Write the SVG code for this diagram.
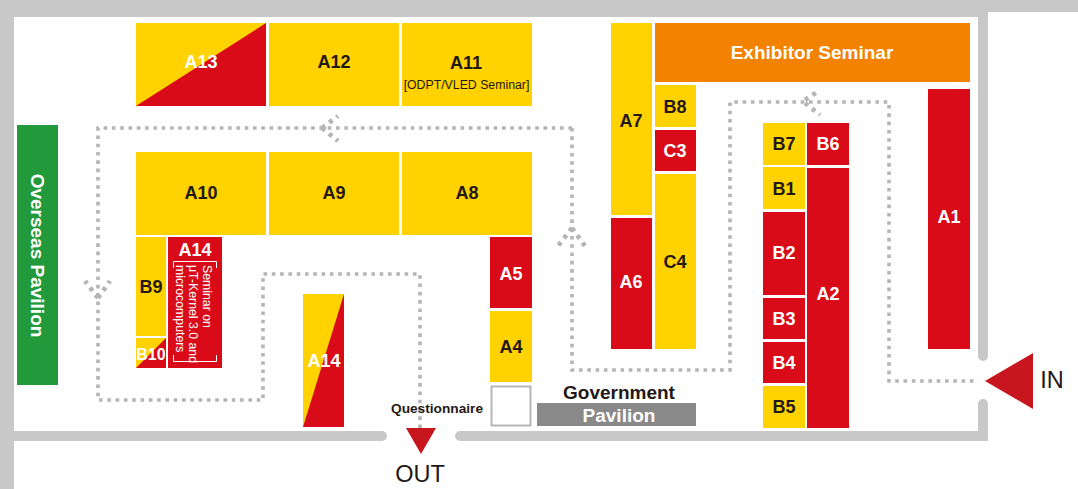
<svg xmlns="http://www.w3.org/2000/svg" width="1078" height="489" viewBox="0 0 1078 489">
<style>
text{font-family:"Liberation Sans",Arial,sans-serif;text-anchor:middle}
.y{fill:#ffd200}.r{fill:#d90b18}
.l{font-size:18px;font-weight:700;fill:#231815}
.w{font-size:18px;font-weight:700;fill:#fff}
.s{font-size:12.300px;fill:#fff;text-anchor:start}
.wall{fill:none;stroke:#c8c8c9;stroke-width:10;stroke-linecap:round;stroke-linejoin:miter}
.dot{fill:none;stroke:#b5b5b6;stroke-width:3.600;stroke-dasharray:3.600 4.700}
.chev{fill:none;stroke:#b5b5b6;stroke-width:4.600;stroke-dasharray:4 5}
.tip{fill:#c8161e}
.big{font-size:23.500px;fill:#231815}
</style>
<g id="walls">
<rect x="0" y="0" width="1078" height="12" fill="#c8c8c9"/>
<rect x="0" y="0" width="988" height="17" fill="#c8c8c9"/>
<rect x="0" y="0" width="14" height="489" fill="#c8c8c9"/>
<path class="wall" d="M983 14V356"/>
<path class="wall" d="M983 404V436H460"/>
<path class="wall" d="M14 436H382"/>
</g>
<g id="connectors">
<path class="dot" d="M572 128H98V400H263V274H420V428"/>
<path class="dot" d="M572 128V370H730V102H889V381H977"/>
<path class="chev" d="M322 128L338 116M322 128L338 141"/>
<path class="chev" d="M572 228L558 246M572 228L585 246"/>
<path class="chev" d="M98 298L85 281M98 298L110 281"/>
<path class="chev" d="M805 100L820 90M805 103L820 115"/>
</g>
<g id="a13"><rect class="y" x="136" y="23" width="130" height="83"/><path class="r" d="M136 106L266 23V106Z"/><text class="w" x="201" y="68">A13</text></g>
<g id="a12"><rect class="y" x="269" y="23" width="130" height="83"/><text class="l" x="334" y="68">A12</text></g>
<g id="a11"><rect class="y" x="402" y="23" width="130" height="83"/><text class="l" x="466" y="69">A11</text><text x="466.500" y="89" font-size="12.300" fill="#231815">[ODPT/VLED Seminar]</text></g>
<g id="a10"><rect class="y" x="136" y="152" width="130" height="83"/><text class="l" x="201" y="199">A10</text></g>
<g id="a9"><rect class="y" x="269" y="152" width="130" height="83"/><text class="l" x="334" y="199">A9</text></g>
<g id="a8"><rect class="y" x="402" y="152" width="130" height="83"/><text class="l" x="467" y="199">A8</text></g>
<g id="overseas"><rect x="17" y="125" width="41" height="260" fill="#229a3c"/><text class="w" transform="translate(31 255.500) rotate(90)" style="font-size:19px">Overseas Pavilion</text></g>
<g id="b9"><rect class="y" x="136" y="237" width="30" height="99"/><text class="l" x="151" y="293">B9</text></g>
<g id="b10"><rect class="y" x="136" y="338" width="30" height="30"/><path class="r" d="M136 368L166 338V368Z"/><text class="w" x="151" y="360" style="font-size:16px">B10</text></g>
<g id="a14-seminar"><rect class="r" x="168" y="237" width="54" height="131"/><text class="w" x="195" y="256">A14</text>
<path d="M173.500 268V261.500H216.500V268M173.500 355V361.500H216.500V355" fill="none" stroke="#fff" stroke-width="1"/>
<text class="s" transform="translate(203 265) rotate(90)">Seminar on</text>
<text class="s" transform="translate(189 265) rotate(90)">μT-Kernel 3.0 and</text>
<text class="s" transform="translate(175.500 265) rotate(90)">microcomputers</text></g>
<g id="a14"><rect class="y" x="303" y="294" width="41" height="133"/><path class="r" d="M344 294V427H303Z"/><text class="w" x="324" y="367">A14</text></g>
<g id="a5"><rect class="r" x="490" y="237" width="42" height="71"/><text class="w" x="511" y="280">A5</text></g>
<g id="a4"><rect class="y" x="490" y="311" width="42" height="71"/><text class="l" x="511" y="353">A4</text></g>
<g id="questionnaire"><rect x="491.500" y="386.500" width="39" height="39" fill="#fff" stroke="#b5b5b6" stroke-width="2"/><text x="437" y="413" font-size="13.700" font-weight="700" fill="#231815">Questionnaire</text></g>
<g id="government"><rect x="537" y="403" width="159" height="23" fill="#898989"/><text x="619" y="398.500" font-size="19" font-weight="700" fill="#231815">Government</text><text class="w" x="619" y="421.500" style="font-size:19px">Pavilion</text></g>
<g id="a7"><rect class="y" x="611" y="23" width="41" height="192"/><text class="l" x="631" y="127">A7</text></g>
<g id="a6"><rect class="r" x="611" y="218" width="41" height="131"/><text class="w" x="631" y="288">A6</text></g>
<g id="seminar"><rect x="655" y="23" width="315" height="59" fill="#f38200"/><text class="w" x="812" y="59" style="font-size:19px">Exhibitor Seminar</text></g>
<g id="b8"><rect class="y" x="655" y="85" width="41" height="42"/><text class="l" x="675" y="113">B8</text></g>
<g id="c3"><rect class="r" x="655" y="130" width="41" height="41"/><text class="w" x="675" y="157">C3</text></g>
<g id="c4"><rect class="y" x="655" y="174" width="41" height="175"/><text class="l" x="675" y="268">C4</text></g>
<g id="b7"><rect class="y" x="763" y="123" width="42" height="42"/><text class="l" x="784" y="150">B7</text></g>
<g id="b6"><rect class="r" x="807" y="123" width="42" height="42"/><text class="w" x="828" y="150">B6</text></g>
<g id="b1"><rect class="y" x="763" y="167" width="42" height="42"/><text class="l" x="784" y="195">B1</text></g>
<g id="b2"><rect class="r" x="763" y="212" width="42" height="83"/><text class="w" x="784" y="259">B2</text></g>
<g id="b3"><rect class="r" x="763" y="298" width="42" height="41"/><text class="w" x="784" y="325">B3</text></g>
<g id="b4"><rect class="r" x="763" y="342" width="42" height="41"/><text class="w" x="784" y="369">B4</text></g>
<g id="b5"><rect class="y" x="763" y="386" width="42" height="42"/><text class="l" x="784" y="413">B5</text></g>
<g id="a2"><rect class="r" x="807" y="168" width="42" height="260"/><text class="w" x="828" y="300">A2</text></g>
<g id="a1"><rect class="r" x="928" y="89" width="42" height="260"/><text class="w" x="949" y="223">A1</text></g>
<g id="out"><path class="tip" d="M406 428H436L421 454Z"/><text class="big" x="420" y="482">OUT</text></g>
<g id="in"><path class="tip" d="M985 381L1033 353V409Z"/><text class="big" x="1052" y="388">IN</text></g>
</svg>
